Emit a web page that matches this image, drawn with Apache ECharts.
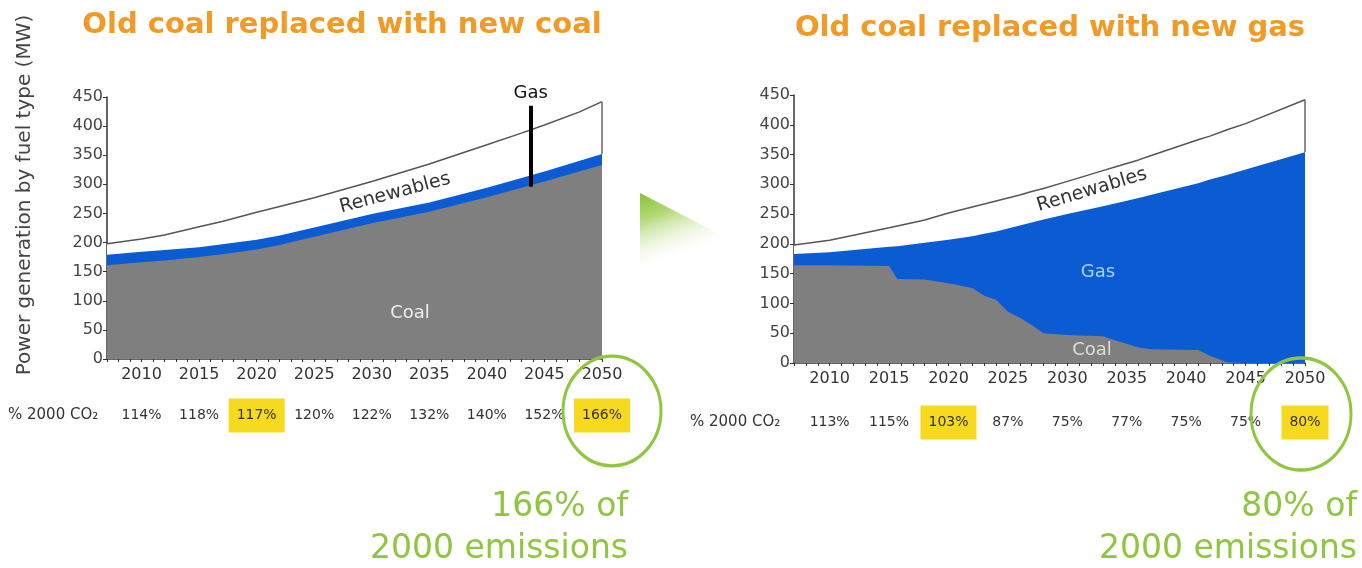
<!DOCTYPE html>
<html>
<head>
<meta charset="utf-8">
<script src="https://cdn.jsdelivr.net/npm/echarts@6/dist/echarts.min.js"></script>
<style>
html,body{margin:0;padding:0;background:#fff;}
#c{width:1362px;height:568px;}
</style>
</head>
<body>
<div id="c"></div>
<script>
// ---- Data ----
const tickYears = [2010, 2015, 2020, 2025, 2030, 2035, 2040, 2045, 2050];
const yTicks = [0, 50, 100, 150, 200, 250, 300, 350, 400, 450];

// Left: old coal replaced with new coal
const leftYears = [2007, 2010, 2012, 2015, 2017, 2020, 2022, 2025, 2030, 2035, 2040, 2043, 2045, 2048, 2050];
const leftCoal  = [161, 166, 169, 175, 180, 188, 196, 210, 233, 253, 278, 294, 305, 322, 333];
const leftGas   = [18, 18, 18, 17, 17, 17, 16, 16, 16, 16, 16, 17, 17, 18, 19];
const leftRenew = [19, 22, 26, 35, 39, 47, 50, 51, 56, 66, 74, 77, 80, 84, 90];
const leftCO2   = ['114%', '118%', '117%', '120%', '122%', '132%', '140%', '152%', '166%'];

// Right: old coal replaced with new gas
const rightYears = [2007, 2010, 2015, 2015.7, 2018, 2020, 2022, 2023, 2024, 2025, 2026, 2027, 2028, 2030, 2033, 2034, 2036, 2037, 2041, 2042, 2043.5, 2045, 2050];
const rightCoal  = [164, 164, 163, 141, 140, 134, 126, 113, 106, 86, 76, 64, 50, 47, 45, 38, 26, 23, 22, 12, 1, 0, 0];
const rightGas   = [19, 22, 32, 55, 62, 73, 87, 104, 115, 140, 155, 172, 191, 203, 218, 230, 251, 259, 280, 296, 315, 325, 354];
const rightRenew = [15, 20, 32, 34, 38, 45, 49, 50, 51, 51, 51, 52, 52, 55, 60, 61, 64, 66, 73, 73, 76, 77, 88];
const rightCO2   = ['113%', '115%', '103%', '87%', '75%', '77%', '75%', '75%', '80%'];

const highlightYears = [2020, 2050];
const gasPointer = {year: 2043.8, from: 296, to: 435};

// ---- Styles ----
const FONT = 'DejaVu Sans';
const COAL = '#7f7f7f', GAS = '#0b5bd3', GREEN = '#8fc640', ORANGE = '#f19a26';
const minorYears = [];
for (let y = 2007; y <= 2050; y++) minorYears.push(y);

// cumulative tops (stack built explicitly, layered areas)
function cum(...arrs) { return arrs[0].map((_, i) => arrs.reduce((s, a) => s + a[i], 0)); }
function pairs(xs, vs) { return xs.map((x, i) => [x, vs[i]]); }
const last = a => a[a.length - 1];

function mainX(gi) {
  return {
    type: 'value', gridIndex: gi, min: 2007, max: 2050,
    splitLine: {show: false},
    axisLine: {show: true, lineStyle: {color: '#333', width: 1.5}},
    axisTick: {show: true, customValues: minorYears, length: 3, lineStyle: {color: '#333'}},
    axisLabel: {customValues: tickYears, formatter: v => String(v), color: '#333', fontSize: 16, fontFamily: FONT, margin: 8}
  };
}
function co2X(gi, labels, offset) {
  return {
    type: 'value', gridIndex: gi, min: 2007, max: 2050, position: 'bottom', offset: offset,
    splitLine: {show: false}, axisLine: {show: false}, axisTick: {show: false},
    axisLabel: {
      customValues: tickYears, margin: 0,
      formatter: v => {
        const i = tickYears.indexOf(v);
        const key = highlightYears.indexOf(v) >= 0 ? 'hl' : 'n';
        return '{' + key + '|' + labels[i] + '}';
      },
      rich: {
        n: {fontSize: 14, fontFamily: FONT, color: '#333', lineHeight: 15, padding: [10, 8]},
        hl: {fontSize: 14, fontFamily: FONT, color: '#333', lineHeight: 15, padding: [10, 8], backgroundColor: '#f7d91e'}
      }
    }
  };
}
function yAx(gi) {
  return {
    type: 'value', gridIndex: gi, min: 0, max: 450, interval: 50,
    splitLine: {show: false},
    axisLine: {show: true, lineStyle: {color: '#333', width: 1.5}},
    axisTick: {show: true, length: 4, lineStyle: {color: '#333'}},
    axisLabel: {color: '#444', fontSize: 16, fontFamily: FONT, margin: 4}
  };
}
function areaSeries(name, xi, yi, xs, vs, color, extra) {
  return Object.assign({
    type: 'line', name: name, xAxisIndex: xi, yAxisIndex: yi,
    data: pairs(xs, vs), symbol: 'none', smooth: false, silent: true,
    lineStyle: {width: 0}, areaStyle: {color: color, opacity: 1, origin: 'start'}
  }, extra || {});
}

const leftGasTop = cum(leftCoal, leftGas), leftTotal = cum(leftCoal, leftGas, leftRenew);
const rightGasTop = cum(rightCoal, rightGas), rightTotal = cum(rightCoal, rightGas, rightRenew);

function edgeLine(gasTop, total) {
  return {
    silent: true, symbol: 'none', label: {show: false},
    lineStyle: {color: '#666', width: 1.5, type: 'solid'},
    data: [[{coord: [2050, last(gasTop)]}, {coord: [2050, last(total)]}]]
  };
}

const txt = (x, y, text, size, fill, extra) => ({
  type: 'text', x: x, y: y, z: 100,
  rotation: (extra && extra.rotation) || 0,
  style: Object.assign({text: text, fontSize: size, fontFamily: FONT, fill: fill, align: 'center', verticalAlign: 'middle', textAlign: 'center', textVerticalAlign: 'middle'}, (extra && extra.style) || {})
});

const option = {
  animation: false,
  backgroundColor: '#fff',
  grid: [
    {left: 107, top: 97, width: 495, height: 262},
    {left: 794, top: 95, width: 511, height: 268}
  ],
  xAxis: [mainX(0), mainX(1), co2X(0, leftCO2, 49), co2X(1, rightCO2, 52)],
  yAxis: [yAx(0), yAx(1)],
  series: [
    areaSeries('Renewables', 0, 0, leftYears, leftTotal, '#fff', {lineStyle: {width: 1.5, color: '#555'}, markLine: edgeLine(leftGasTop, leftTotal)}),
    areaSeries('Gas', 0, 0, leftYears, leftGasTop, GAS, {
      markLine: {
        silent: true, symbol: 'none',
        lineStyle: {color: '#000', width: 4, type: 'solid'},
        label: {show: true, position: 'end', formatter: 'Gas', color: '#111', fontSize: 18, fontFamily: FONT, distance: 3},
        data: [[{coord: [gasPointer.year, gasPointer.from]}, {coord: [gasPointer.year, gasPointer.to]}]]
      }
    }),
    areaSeries('Coal', 0, 0, leftYears, leftCoal, COAL),
    areaSeries('Renewables', 1, 1, rightYears, rightTotal, '#fff', {lineStyle: {width: 1.5, color: '#555'}, markLine: edgeLine(rightGasTop, rightTotal)}),
    areaSeries('Gas', 1, 1, rightYears, rightGasTop, GAS),
    areaSeries('Coal', 1, 1, rightYears, rightCoal, COAL)
  ],
  graphic: [
    txt(342, 25, 'Old coal replaced with new coal', 29, ORANGE, {style: {fontWeight: 'bold'}}),
    txt(1050, 28, 'Old coal replaced with new gas', 29, ORANGE, {style: {fontWeight: 'bold'}}),
    txt(25, 195, 'Power generation by fuel type (MW)', 20, '#444', {rotation: Math.PI / 2}),
    txt(395, 193, 'Renewables', 19, '#333', {rotation: 0.26}),
    txt(410, 313, 'Coal', 18, '#eeeeee'),
    txt(1092, 190, 'Renewables', 19, '#333', {rotation: 0.29}),
    txt(1098, 272, 'Gas', 18, '#a9d3ff'),
    txt(1092, 350, 'Coal', 18, '#dddddd'),
    txt(8, 415, '% 2000 CO₂', 15, '#333', {style: {align: 'left', textAlign: 'left'}}),
    txt(690, 422, '% 2000 CO₂', 15, '#333', {style: {align: 'left', textAlign: 'left'}}),
    {type: 'polygon', z: 100, shape: {points: [[640, 193], [727, 238], [640, 265]]},
     style: {fill: {type: 'linear', x: 0, y: 0, x2: 0.3, y2: 1, colorStops: [{offset: 0, color: '#86c232'}, {offset: 0.35, color: '#b5da7a'}, {offset: 1, color: 'rgba(255,255,255,0)'}]}}},
    {type: 'circle', x: 612, y: 411, scaleY: 1.12, shape: {cx: 0, cy: 0, r: 49}, style: {fill: 'none', stroke: GREEN, lineWidth: 3}, z: 100},
    {type: 'circle', x: 1301, y: 414, scaleY: 1.12, shape: {cx: 0, cy: 0, r: 50}, style: {fill: 'none', stroke: GREEN, lineWidth: 3}, z: 100},
    txt(628, 507, '166% of', 33, GREEN, {style: {align: 'right', textAlign: 'right'}}),
    txt(628, 549, '2000 emissions', 33, GREEN, {style: {align: 'right', textAlign: 'right'}}),
    txt(1357, 507, '80% of', 33, GREEN, {style: {align: 'right', textAlign: 'right'}}),
    txt(1357, 549, '2000 emissions', 33, GREEN, {style: {align: 'right', textAlign: 'right'}})
  ]
};

const chart = echarts.init(document.getElementById('c'), null, {renderer: 'canvas'});
chart.setOption(option);
</script>
</body>
</html>
